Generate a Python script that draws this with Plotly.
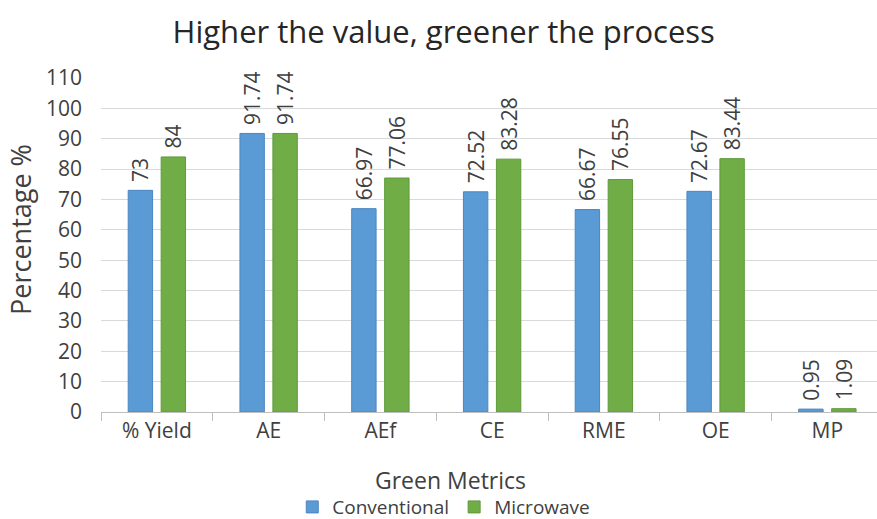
import plotly.graph_objects as go

categories = ["% Yield", "AE", "AEf", "CE", "RME", "OE", "MP"]
conventional = [73, 91.74, 66.97, 72.52, 66.67, 72.67, 0.95]
microwave = [84, 91.74, 77.06, 83.28, 76.55, 83.44, 1.09]
conv_labels = ["73", "91.74", "66.97", "72.52", "66.67", "72.67", "0.95"]
micro_labels = ["84", "91.74", "77.06", "83.28", "76.55", "83.44", "1.09"]

font_family = "Open Sans, Calibri, Arial, sans-serif"
text_color = "#404040"

pad = "\u00a0"

fig = go.Figure()
fig.add_trace(go.Bar(
    name="Conventional", x=categories, y=conventional,
    text=[pad + t for t in conv_labels], textposition="outside", textangle=-90,
    textfont=dict(size=21, color=text_color, family=font_family),
    marker=dict(color="#5B9BD5", line=dict(color="#4A86C0", width=1)),
    cliponaxis=False,
))
fig.add_trace(go.Bar(
    name="Microwave", x=categories, y=microwave,
    text=[pad + t for t in micro_labels], textposition="outside", textangle=-90,
    textfont=dict(size=21, color=text_color, family=font_family),
    marker=dict(color="#70AD47", line=dict(color="#5E9A3A", width=1)),
    cliponaxis=False,
))

fig.update_layout(
    width=877, height=519,
    paper_bgcolor="white", plot_bgcolor="white",
    font=dict(family=font_family, color="#595959", size=20),
    title=dict(text="Higher the value, greener the process", x=0.506, xanchor="center",
               xref="container",
               y=0.938, yanchor="middle",
               font=dict(size=31, color="#262626", family=font_family)),
    margin=dict(l=101, r=0, t=78, b=107, autoexpand=False),
    barmode="group", bargap=0.41, bargroupgap=0.26,
    uniformtext=dict(mode="show", minsize=21),
    legend=dict(orientation="h", xref="container", x=0.506, xanchor="center",
                yref="container", y=0.023, yanchor="middle",
                font=dict(size=19, color="#404040"),
                itemwidth=30, tracegroupgap=0, traceorder="normal"),
    xaxis=dict(
        range=[-0.5, 6.444],
        showline=True, linecolor="#BFBFBF", linewidth=1,
        ticks="outside", ticklen=8, tickcolor="#BFBFBF",
        tickson="boundaries",
        tickfont=dict(size=21, color="#404040"),
    ),
    yaxis=dict(
        range=[0, 110], dtick=10, tick0=0,
        showgrid=True, gridcolor="#D9D9D9", gridwidth=1,
        zeroline=False, showline=False,
        tickfont=dict(size=21, color="#404040"),
        ticklabelstandoff=18,
    ),
    annotations=[
        dict(text="Green Metrics", xref="paper", yref="paper", x=0.451, y=-0.2036,
             xanchor="center", yanchor="middle", showarrow=False,
             font=dict(size=23, color="#404040")),
        dict(text="Percentage %", xref="paper", yref="paper", x=-0.1031, y=0.548,
             xanchor="center", yanchor="middle", showarrow=False, textangle=-90,
             font=dict(size=27, color="#404040")),
    ],
)

fig.write_html("out.html", config={"displayModeBar": False},
               post_script="document.body.style.margin='0';")
